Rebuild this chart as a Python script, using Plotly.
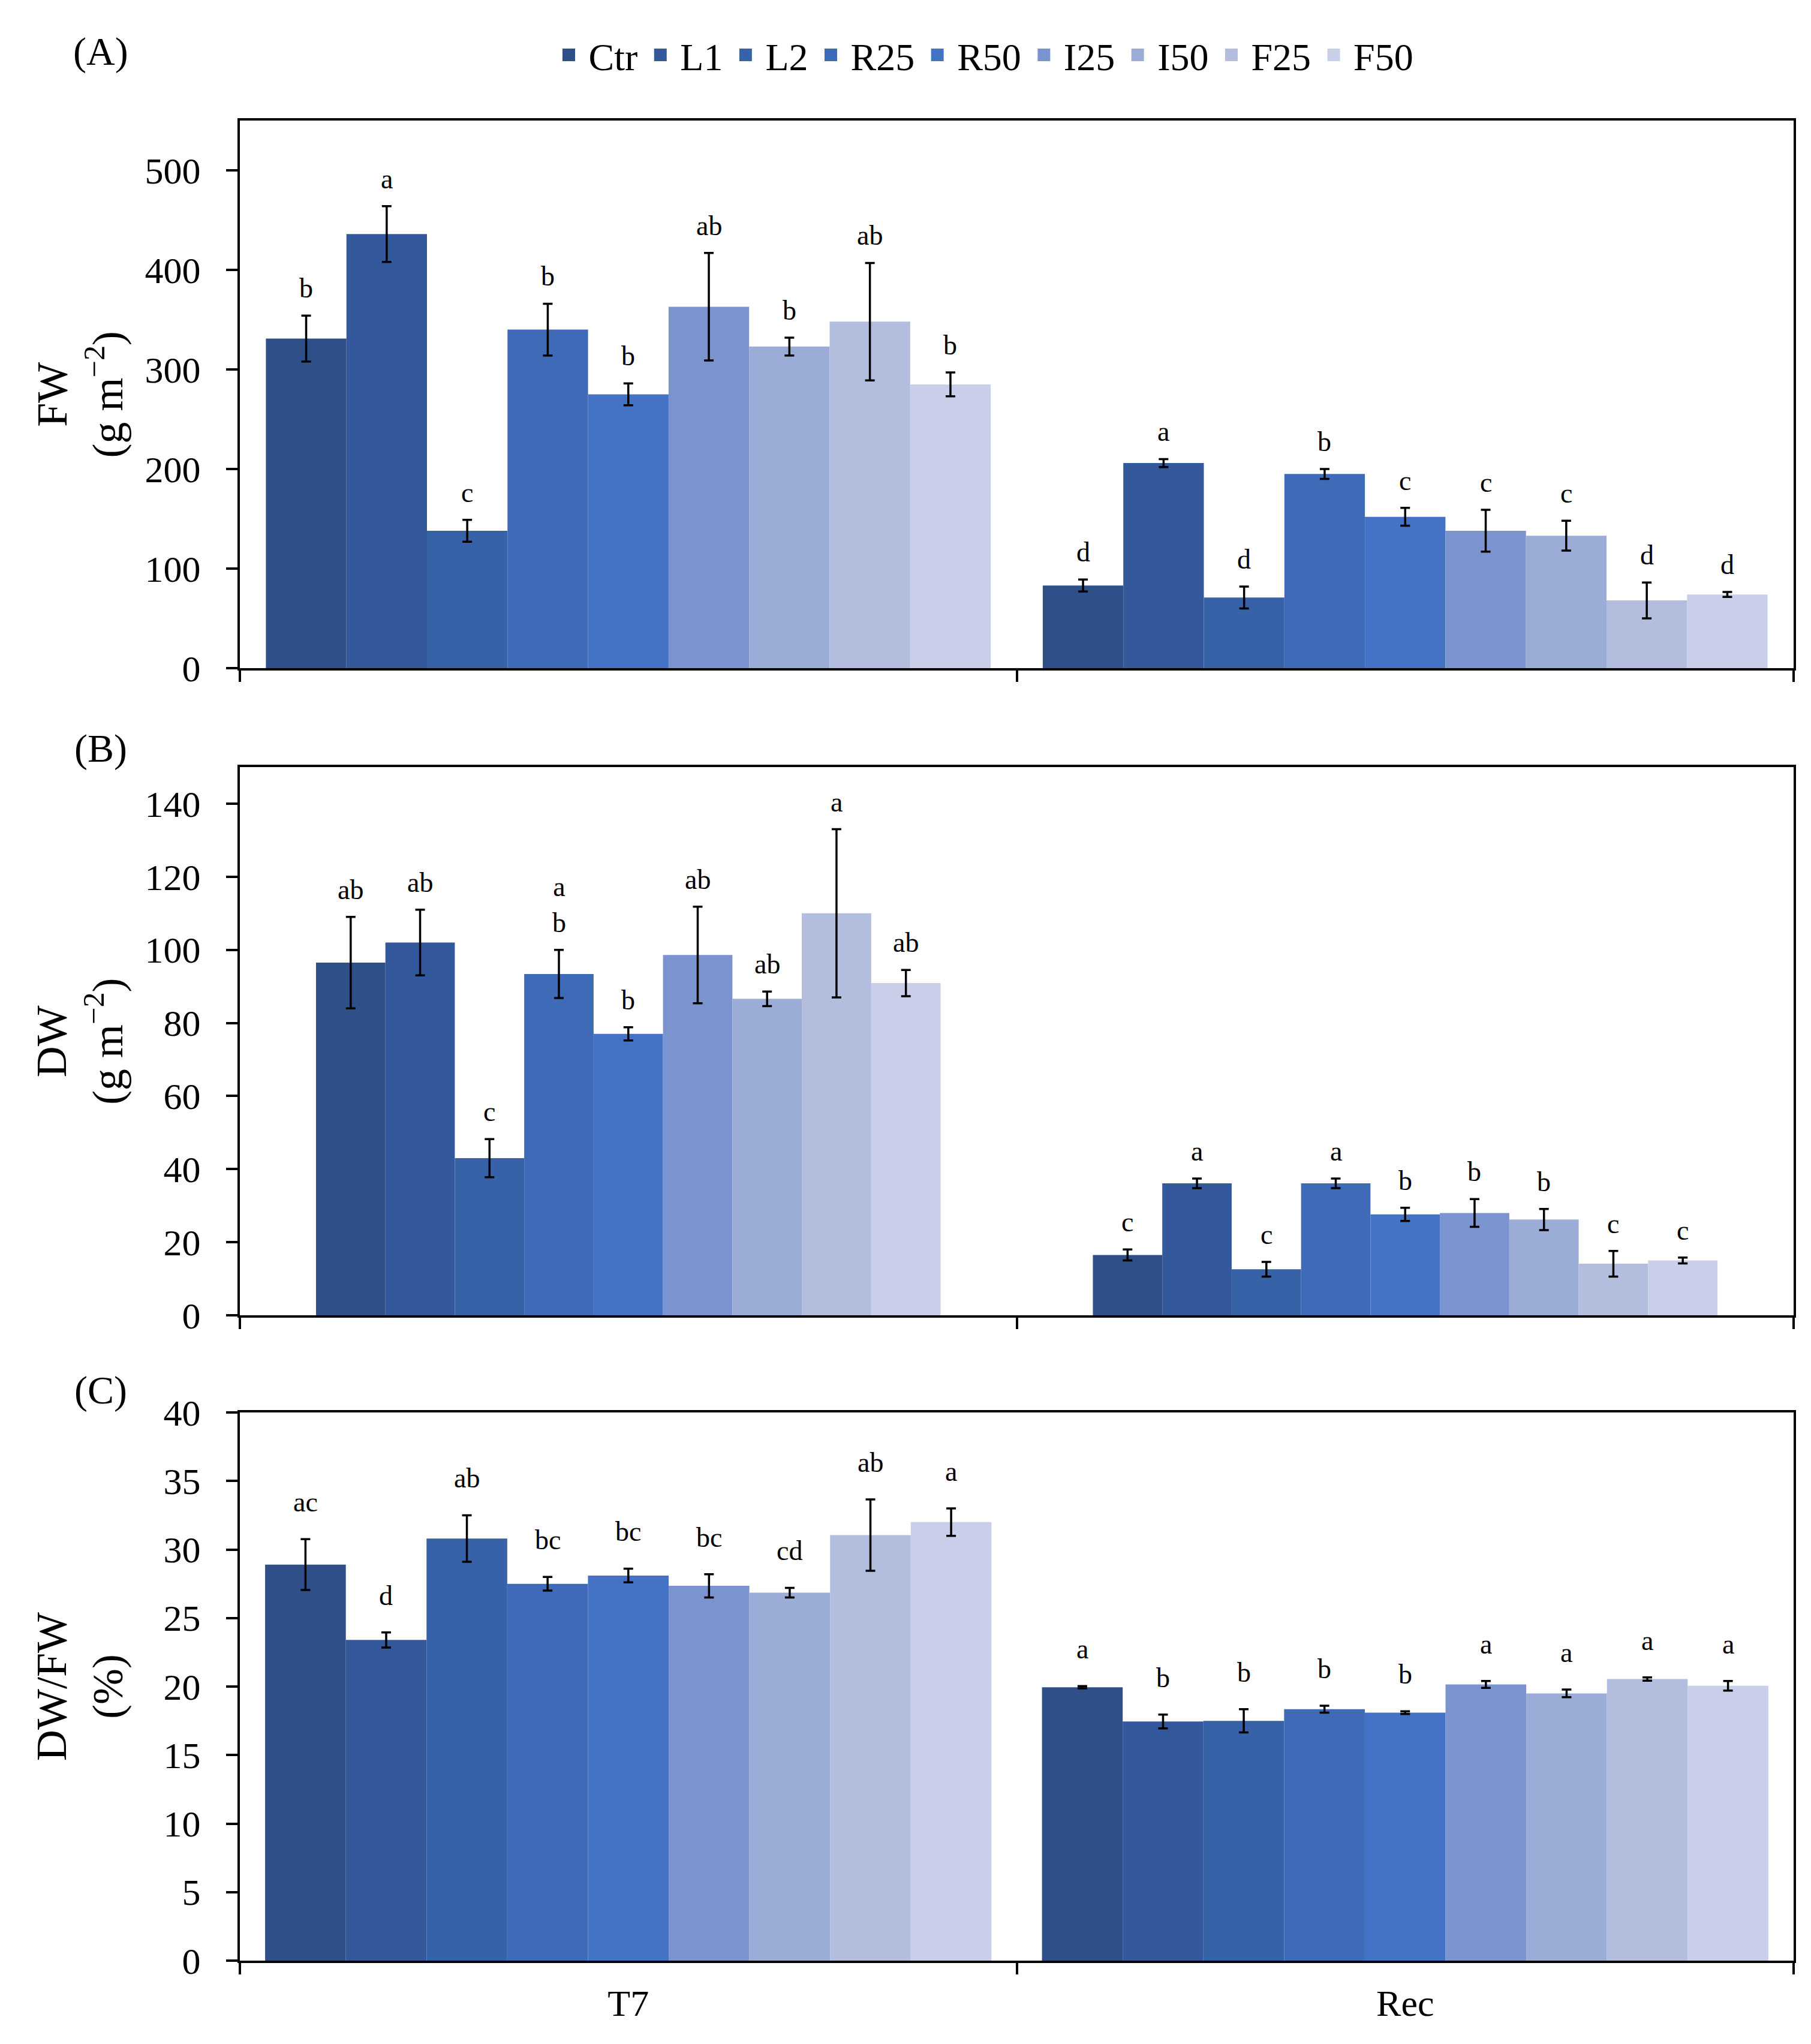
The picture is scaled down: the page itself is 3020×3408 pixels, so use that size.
import plotly.graph_objects as go

groups = ["T7", "Rec"]
treatments = ["Ctr", "L1", "L2", "R25", "R50", "I25", "I50", "F25", "F50"]
colors = ["#2E4F88", "#34589C", "#3862A8", "#3E6AB8", "#4472C4",
          "#7B93CE", "#9BACD7", "#B3BEDF", "#CACFE9"]

# values per treatment: [T7, Rec]
fw_mean = [[331, 83], [436, 206], [138, 71], [340, 195], [275, 152],
           [363, 138], [323, 133], [348, 68], [285, 74]]
fw_err = [[23, 6], [28, 4], [11, 11], [26, 5], [11, 9],
          [54, 21], [9, 15], [59, 18], [12, 2.5]]
fw_letters = [["b", "d"], ["a", "a"], ["c", "d"], ["b", "b"], ["b", "c"],
              ["ab", "c"], ["b", "c"], ["ab", "d"], ["b", "d"]]

dw_mean = [[96.5, 16.5], [102, 36.1], [43, 12.6], [93.4, 36.1], [77, 27.6],
           [98.6, 28], [86.6, 26.2], [110, 14.1], [90.9, 15]]
dw_err = [[12.5, 1.5], [9, 1.3], [5.2, 2], [6.6, 1.3], [1.8, 1.8],
          [13.2, 3.8], [2, 2.9], [23, 3.5], [3.6, 0.8]]
dw_letters = [["ab", "c"], ["ab", "a"], ["c", "c"], ["a<br>b", "a"], ["b", "b"],
              ["ab", "b"], ["ab", "b"], ["a", "c"], ["ab", "c"]]

ratio_mean = [[28.9, 19.95], [23.4, 17.45], [30.8, 17.5], [27.5, 18.35], [28.1, 18.1],
              [27.35, 20.15], [26.85, 19.5], [31.05, 20.55], [32.0, 20.05]]
ratio_err = [[1.85, 0.08], [0.55, 0.5], [1.7, 0.85], [0.5, 0.25], [0.5, 0.1],
             [0.85, 0.25], [0.35, 0.28], [2.6, 0.12], [1.0, 0.35]]
ratio_letters = [["ac", "a"], ["d", "b"], ["ab", "b"], ["bc", "b"], ["bc", "b"],
                 ["bc", "a"], ["cd", "a"], ["ab", "a"], ["a", "a"]]

FONT = "Liberation Serif"
W, H = 3020, 3408

panels = [
    dict(mean=fw_mean, err=fw_err, letters=fw_letters, label="(A)",
         title="FW<br>(g m<sup>−2</sup>)", yrange=[0, 550], dtick=100,
         top=193, bottom=1106, frac=0.933, shift=18, label_y=78),
    dict(mean=dw_mean, err=dw_err, letters=dw_letters, label="(B)",
         title="DW<br>(g m<sup>−2</sup>)", yrange=[0, 150], dtick=20,
         top=1271, bottom=2185, frac=0.804, shift=18, label_y=1240),
    dict(mean=ratio_mean, err=ratio_err, letters=ratio_letters, label="(C)",
         title="DW/FW<br>(%)", yrange=[0, 40], dtick=5,
         top=2347, bottom=3261, frac=0.935, shift=34, label_y=2310),
]

x_dom = [392 / W, 2983 / W]

fig = go.Figure()
annotations = []
layout = {}

# legend entries: bigger square swatches than the bar default
for i, name in enumerate(treatments):
    fig.add_trace(go.Scatter(
        x=[None], y=[None], mode="markers", name=name,
        marker=dict(symbol="square", size=16, color=colors[i],
                    line=dict(color=colors[i], width=5)),
        legendgroup=name, showlegend=True,
    ))

for k, p in enumerate(panels, start=1):
    sfx = "" if k == 1 else str(k)
    w = p["frac"] / len(treatments)
    for i, name in enumerate(treatments):
        off = -p["frac"] / 2 + i * w
        fig.add_trace(go.Bar(
            x=groups, y=p["mean"][i], name=name,
            xaxis="x" + sfx, yaxis="y" + sfx,
            width=w, offset=off,
            marker=dict(color=colors[i], line=dict(width=0)),
            error_y=dict(type="data", array=p["err"][i], color="black",
                         thickness=3.5, width=8),
            legendgroup=name, showlegend=False,
        ))
        for g in range(len(groups)):
            annotations.append(dict(
                x=g + off + w / 2, y=p["mean"][i][g] + p["err"][i][g],
                xref="x" + sfx, yref="y" + sfx,
                text=p["letters"][i][g], showarrow=False,
                yanchor="bottom", yshift=p["shift"],
                font=dict(family=FONT, size=46, color="black"),
            ))

    dom = [1 - p["bottom"] / H, 1 - p["top"] / H]
    layout["xaxis" + sfx] = dict(
        domain=x_dom, anchor="y" + sfx, type="category",
        categoryorder="array", categoryarray=groups,
        tickson="boundaries", ticks="outside", ticklen=19, tickwidth=3.5,
        tickcolor="black", showline=True, linewidth=4, linecolor="black",
        mirror=True, showgrid=False, showticklabels=(k == 3),
        tickfont=dict(family=FONT, size=62, color="black"),
        ticklabelstandoff=14, automargin=False,
    )
    layout["yaxis" + sfx] = dict(
        domain=dom, anchor="x" + sfx, range=p["yrange"], dtick=p["dtick"],
        ticks="outside", ticklen=19, tickwidth=3.5, tickcolor="black",
        showline=True, linewidth=4, linecolor="black", mirror=True,
        showgrid=False, zeroline=False,
        tickfont=dict(family=FONT, size=62, color="black"),
        ticklabelstandoff=30, automargin=False,
    )
    annotations.append(dict(
        x=125 / W, y=(dom[0] + dom[1]) / 2, xref="paper", yref="paper",
        text=p["title"], textangle=-90, showarrow=False,
        xanchor="center", yanchor="middle",
        font=dict(family=FONT, size=72, color="black"),
    ))
    annotations.append(dict(
        x=160 / W, y=1 - p["label_y"] / H, xref="paper", yref="paper",
        text=p["label"], showarrow=False, xanchor="center", yanchor="middle",
        font=dict(family=FONT, size=66, color="black"),
    ))

fig.update_layout(
    width=W, height=H,
    margin=dict(l=0, r=0, t=0, b=0),
    paper_bgcolor="white", plot_bgcolor="white",
    font=dict(family=FONT, color="black"),
    barmode="overlay",
    legend=dict(orientation="h", x=1631 / W, y=1 - 84 / H,
                xanchor="center", yanchor="middle",
                font=dict(family=FONT, size=64, color="black"),
                itemwidth=56, tracegroupgap=0),
    annotations=annotations,
    **layout,
)

fig.write_html("out.html")
